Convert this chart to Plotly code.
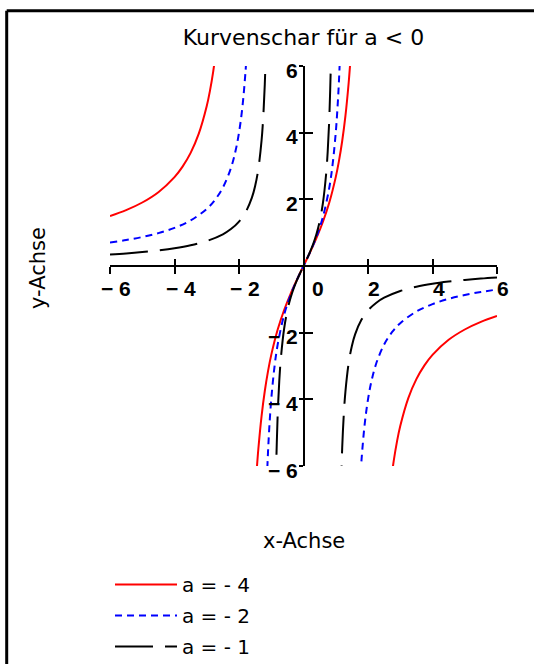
import plotly.graph_objects as go

# ---- data ----
# a = -4  (three branches separated by None)
red_x = [-6.0, -5.5, -5.0, -4.5, -4.0, -3.75, -3.5, -3.25, -3.0, -2.9, -2.8, -2.7, None,
         -1.45, -1.4, -1.3, -1.2, -1.1, -1.0, -0.8, -0.6, -0.4, -0.2, 0.0,
         0.2, 0.4, 0.6, 0.8, 1.0, 1.1, 1.2, 1.3, 1.4, 1.45, None,
         2.7, 2.8, 2.9, 3.0, 3.25, 3.5, 3.75, 4.0, 4.5, 5.0, 5.5, 6.0]
red_y = [1.5, 1.676, 1.905, 2.215, 2.667, 2.981, 3.394, 3.962, 4.8, 5.261, 5.833, 6.565, None,
         -6.113, -5.49, -4.502, -3.75, -3.154, -2.667, -1.905, -1.319, -0.833, -0.404, 0.0,
         0.404, 0.833, 1.319, 1.905, 2.667, 3.154, 3.75, 4.502, 5.49, 6.113, None,
         -6.565, -5.833, -5.261, -4.8, -3.962, -3.394, -2.981, -2.667, -2.215, -1.905, -1.676, -1.5]

# a = -2
blue_x = [-6.0, -5.5, -5.0, -4.5, -4.0, -3.5, -3.0, -2.75, -2.5, -2.25, -2.1, -2.0, -1.9, -1.8, -1.75, None,
          -1.15, -1.1, -1.05, -1.0, -0.9, -0.8, -0.6, -0.4, -0.2, 0.0,
          0.2, 0.4, 0.6, 0.8, 0.9, 1.0, 1.05, 1.1, 1.15, None,
          1.75, 1.8, 1.9, 2.0, 2.1, 2.25, 2.5, 2.75, 3.0, 3.5, 4.0, 4.5, 5.0, 5.5, 6.0]
blue_y = [0.706, 0.779, 0.87, 0.986, 1.143, 1.366, 1.714, 1.978, 2.353, 2.939, 3.485, 4.0, 4.72, 5.806, 6.588, None,
          -6.79, -5.57, -4.68, -4.0, -3.025, -2.353, -1.463, -0.87, -0.408, 0.0,
          0.408, 0.87, 1.463, 2.353, 3.025, 4.0, 4.68, 5.57, 6.79, None,
          -6.588, -5.806, -4.72, -4.0, -3.485, -2.939, -2.353, -1.978, -1.714, -1.366, -1.143, -0.986, -0.87, -0.779, -0.706]

# a = -1
black_x = [-6.0, -5.5, -5.0, -4.5, -4.0, -3.5, -3.0, -2.5, -2.25, -2.0, -1.8, -1.6, -1.5, -1.4, -1.3, -1.25, -1.2, -1.15, None,
           -0.87, -0.85, -0.8, -0.75, -0.7, -0.6, -0.5, -0.4, -0.3, -0.2, -0.1, 0.0,
           0.1, 0.2, 0.3, 0.4, 0.5, 0.6, 0.7, 0.75, 0.8, 0.85, 0.87, None,
           1.15, 1.2, 1.25, 1.3, 1.4, 1.5, 1.6, 1.8, 2.0, 2.25, 2.5, 3.0, 3.5, 4.0, 4.5, 5.0, 5.5, 6.0]
black_y = [0.343, 0.376, 0.417, 0.468, 0.533, 0.622, 0.75, 0.952, 1.108, 1.333, 1.607, 2.051, 2.4, 2.917, 3.768, 4.444, 5.455, 7.132, None,
           -7.158, -6.126, -4.444, -3.429, -2.745, -1.875, -1.333, -0.952, -0.659, -0.417, -0.202, 0.0,
           0.202, 0.417, 0.659, 0.952, 1.333, 1.875, 2.745, 3.429, 4.444, 6.126, 7.158, None,
           -7.132, -5.455, -4.444, -3.768, -2.917, -2.4, -2.051, -1.607, -1.333, -1.108, -0.952, -0.75, -0.622, -0.533, -0.468, -0.417, -0.376, -0.343]

series_names = ["a = - 4", "a = - 2", "a = - 1"]
tick_vals = [-6, -4, -2, 2, 4, 6]
x_tick_text = ["\u2212 6", "\u2212 4", "\u2212 2", "2", "4", "6"]
y_tick_text = ["\u2212 6", "\u2212 4", "\u2212 2", "2", "4", "6"]
title_text = "Kurvenschar für a < 0"
x_title = "x-Achse"
y_title = "y-Achse"

FONT = "DejaVu Sans, sans-serif"
BOLD_FONT = "Arial, Liberation Sans, sans-serif"

fig = go.Figure()
fig.add_trace(go.Scatter(x=red_x, y=red_y, mode="lines", name=series_names[0], legendgroup="r",
                         line=dict(color="#ff0000", width=2, shape="spline"), connectgaps=False))
fig.add_trace(go.Scatter(x=blue_x, y=blue_y, mode="lines", name=series_names[1], legendgroup="b",
                         line=dict(color="#0000ff", width=2, dash="7px,5px", shape="spline"), connectgaps=False))
fig.add_trace(go.Scatter(x=black_x, y=black_y, mode="lines", name=series_names[2], legendgroup="k",
                         line=dict(color="#000000", width=2, dash="38px,12px", shape="spline"), connectgaps=False))
# empty trace on overlay axes so the inner tick marks are drawn
fig.add_trace(go.Scatter(x=[None], y=[None], xaxis="x2", yaxis="y2", showlegend=False, hoverinfo="skip"))

fig.update_layout(
    width=534, height=664,
    margin=dict(l=110, r=37, t=66, b=198, autoexpand=False),
    paper_bgcolor="white", plot_bgcolor="white",
    showlegend=True,
    title=dict(text=title_text, x=0.5, xref="paper", xanchor="center",
               y=1 - 37 / 664, yanchor="middle",
               font=dict(family=FONT, size=22, color="black")),
    xaxis=dict(range=[-6, 6], anchor="free", position=0.5, showgrid=False, zeroline=False,
               showline=True, linecolor="black", linewidth=2,
               ticks="outside", ticklen=7, tickwidth=2, tickcolor="black",
               tickvals=tick_vals, showticklabels=False, fixedrange=True),
    yaxis=dict(range=[-6, 6], anchor="free", position=0.5, showgrid=False, zeroline=False,
               showline=True, linecolor="black", linewidth=2,
               ticks="outside", ticklen=4, tickwidth=2, tickcolor="black",
               tickvals=tick_vals, showticklabels=False, fixedrange=True),
    xaxis2=dict(range=[-6, 6], overlaying="x", anchor="free", position=0.5, showgrid=False,
                zeroline=False, showline=False, ticks="inside", ticklen=7, tickwidth=2,
                tickcolor="black", tickvals=tick_vals, showticklabels=False, side="bottom"),
    yaxis2=dict(range=[-6, 6], overlaying="y", anchor="free", position=0.5, showgrid=False,
                zeroline=False, showline=False, ticks="inside", ticklen=8, tickwidth=2,
                tickcolor="black", tickvals=tick_vals, showticklabels=False, side="left"),
    legend=dict(x=(110 - 110) / 387, y=(466 - 565) / 400, xanchor="left", yanchor="top",
                bgcolor="rgba(0,0,0,0)", traceorder="grouped",
                font=dict(family=FONT, size=20, color="black"),
                itemwidth=62, tracegroupgap=2),
)

annotations = []
for v, t in zip(tick_vals, x_tick_text):
    annotations.append(dict(x=v, y=0, xref="x", yref="y", text=t, showarrow=False,
                            xanchor="center", yanchor="middle", xshift=6, yshift=-22,
                            font=dict(family=BOLD_FONT, size=21, color="black", weight="bold")))
annotations.append(dict(x=0, y=0, xref="x", yref="y", text="0", showarrow=False,
                        xanchor="center", yanchor="middle", xshift=14, yshift=-22,
                        font=dict(family=BOLD_FONT, size=21, color="black", weight="bold")))
for v, t in zip(tick_vals, y_tick_text):
    annotations.append(dict(x=0, y=v, xref="x", yref="y", text=t, showarrow=False,
                            xanchor="right", yanchor="middle", xshift=-4, yshift=-4,
                            font=dict(family=BOLD_FONT, size=21, color="black", weight="bold")))
annotations.append(dict(x=(304 - 110) / 387, y=(466 - 541) / 400, xref="paper", yref="paper", text=x_title,
                        showarrow=False, xanchor="center", yanchor="middle",
                        font=dict(family=FONT, size=21, color="black")))
annotations.append(dict(x=(38 - 110) / 387, y=(466 - 268) / 400, xref="paper", yref="paper", text=y_title,
                        showarrow=False, xanchor="center", yanchor="middle", textangle=-90,
                        font=dict(family=FONT, size=21, color="black")))
fig.update_layout(annotations=annotations)

# frame: only the left and top edges are visible in the reference
frame_left = (6.7 - 110) / 387
frame_right = (534 - 110) / 387
frame_top = (466 - 10.7) / 400
frame_bottom = (466 - 664) / 400
fig.add_shape(type="line", xref="paper", yref="paper",
              x0=frame_left, x1=frame_right, y0=frame_top, y1=frame_top,
              line=dict(color="black", width=3), layer="above")
fig.add_shape(type="line", xref="paper", yref="paper",
              x0=frame_left, x1=frame_left, y0=frame_bottom, y1=frame_top,
              line=dict(color="black", width=3), layer="above")

fig.write_html("out.html", config={"displayModeBar": False},
               post_script="document.body.style.margin='0';document.body.style.overflow='hidden';")
